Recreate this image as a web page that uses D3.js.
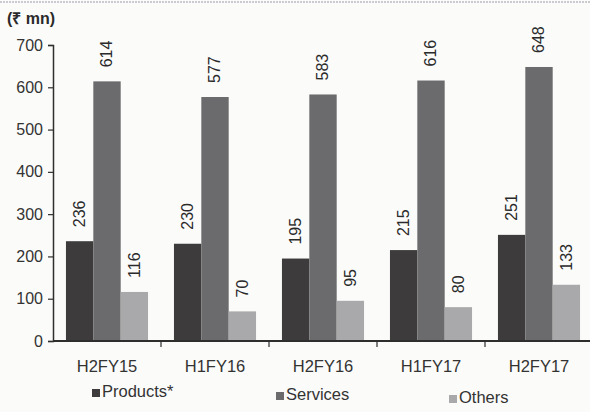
<!DOCTYPE html>
<html>
<head>
<meta charset="utf-8">
<script src="https://cdn.jsdelivr.net/npm/d3@7"></script>
<style>
  body { margin: 0; background: #fbfbfa; }
  svg { display: block; font-family: "Liberation Sans", Arial, sans-serif; }
</style>
</head>
<body>
<div id="chart"></div>
<script>
const categories = ['H2FY15', 'H1FY16', 'H2FY16', 'H1FY17', 'H2FY17'];
const seriesNames = ['Products*', 'Services', 'Others'];
const products = [236, 230, 195, 215, 251];
const services = [614, 577, 583, 616, 648];
const others = [116, 70, 95, 80, 133];
const yTicks = [0, 100, 200, 300, 400, 500, 600, 700];

const colors = d3.scaleOrdinal()
    .domain(seriesNames)
    .range(['#3d3b3c', '#6b6a6c', '#a9a8aa']);

const width = 590, height = 412;
const plot = {left: 53, right: 593, top: 45, bottom: 341};

const rows = categories.map((c, i) => ({
    category: c,
    values: [products[i], services[i], others[i]]
}));

const svg = d3.select('#chart').append('svg')
    .attr('width', width)
    .attr('height', height);

// scan edge line at the top
svg.append('line')
    .attr('x1', 0).attr('x2', width)
    .attr('y1', 2).attr('y2', 2)
    .attr('stroke', '#9a9aa8')
    .attr('stroke-width', 1)
    .attr('stroke-dasharray', '2,1');

const x0 = d3.scaleBand()
    .domain(categories)
    .range([plot.left, plot.right])
    .paddingInner(0.24)
    .paddingOuter(0.12);

const x1 = d3.scaleBand()
    .domain(seriesNames)
    .range([0, x0.bandwidth()]);

const y = d3.scaleLinear()
    .domain([0, 700])
    .range([plot.bottom, plot.top]);

// bars
const groups = svg.selectAll('g.group')
    .data(rows)
    .enter()
    .append('g')
    .attr('class', 'group')
    .attr('transform', d => `translate(${x0(d.category)},0)`);

groups.selectAll('rect')
    .data(d => d.values.map((v, i) => ({name: seriesNames[i], value: v})))
    .enter()
    .append('rect')
    .attr('x', d => x1(d.name))
    .attr('y', d => y(d.value))
    .attr('width', x1.bandwidth())
    .attr('height', d => y(0) - y(d.value))
    .attr('fill', d => colors(d.name));

// rotated value labels
groups.selectAll('text')
    .data(d => d.values.map((v, i) => ({name: seriesNames[i], value: v})))
    .enter()
    .append('text')
    .attr('transform', d => `translate(${x1(d.name) + x1.bandwidth() / 2 + 1},${y(d.value) - 14}) rotate(-90)`)
    .attr('dominant-baseline', 'middle')
    .attr('text-anchor', 'start')
    .attr('font-size', 16)
    .attr('fill', '#2a2a2a')
    .text(d => d.value);

// y axis
const yAxis = svg.append('g')
    .attr('transform', `translate(${plot.left},0)`)
    .call(d3.axisLeft(y).tickValues(yTicks).tickSize(5).tickPadding(5));
yAxis.select('.domain').attr('stroke', '#2e2e2e').attr('stroke-width', 1.5);
yAxis.selectAll('.tick line').attr('stroke', '#2e2e2e').attr('stroke-width', 1.2);
yAxis.selectAll('.tick text')
    .attr('font-size', 16)
    .attr('font-family', '"Liberation Sans", Arial, sans-serif')
    .attr('fill', '#333');

// x axis
const xAxis = svg.append('g')
    .attr('transform', `translate(0,${plot.bottom})`);
xAxis.append('line')
    .attr('x1', plot.left).attr('x2', width)
    .attr('y1', 0).attr('y2', 0)
    .attr('stroke', '#2e2e2e')
    .attr('stroke-width', 1.8);
xAxis.selectAll('line.tick')
    .data(categories.slice(1))
    .enter()
    .append('line')
    .attr('class', 'tick')
    .attr('x1', d => x0(d) - x0.step() * 0.12)
    .attr('x2', d => x0(d) - x0.step() * 0.12)
    .attr('y1', 0).attr('y2', 6)
    .attr('stroke', '#2e2e2e')
    .attr('stroke-width', 1.2);
xAxis.selectAll('text')
    .data(categories)
    .enter()
    .append('text')
    .attr('x', d => x0(d) + x0.bandwidth() / 2)
    .attr('y', 31)
    .attr('text-anchor', 'middle')
    .attr('font-size', 16.5)
    .attr('fill', '#333')
    .text(d => d);

// unit label
svg.append('text')
    .attr('x', 7)
    .attr('y', 24)
    .attr('font-size', 16)
    .attr('font-weight', 'bold')
    .attr('fill', '#2a2a2a')
    .text('(₹ mn)');

// legend
const legendX = [92, 276, 449];
const legend = svg.selectAll('g.legend')
    .data(seriesNames)
    .enter()
    .append('g')
    .attr('class', 'legend')
    .attr('transform', (d, i) => `translate(${legendX[i]},${393 + i * 3})`);

legend.append('rect')
    .attr('x', 0)
    .attr('y', -4)
    .attr('width', 8)
    .attr('height', 8)
    .attr('fill', d => colors(d));

legend.append('text')
    .attr('x', 10)
    .attr('y', 0)
    .attr('dominant-baseline', 'middle')
    .attr('font-size', 16.5)
    .attr('fill', '#333')
    .text(d => d);
</script>
</body>
</html>
